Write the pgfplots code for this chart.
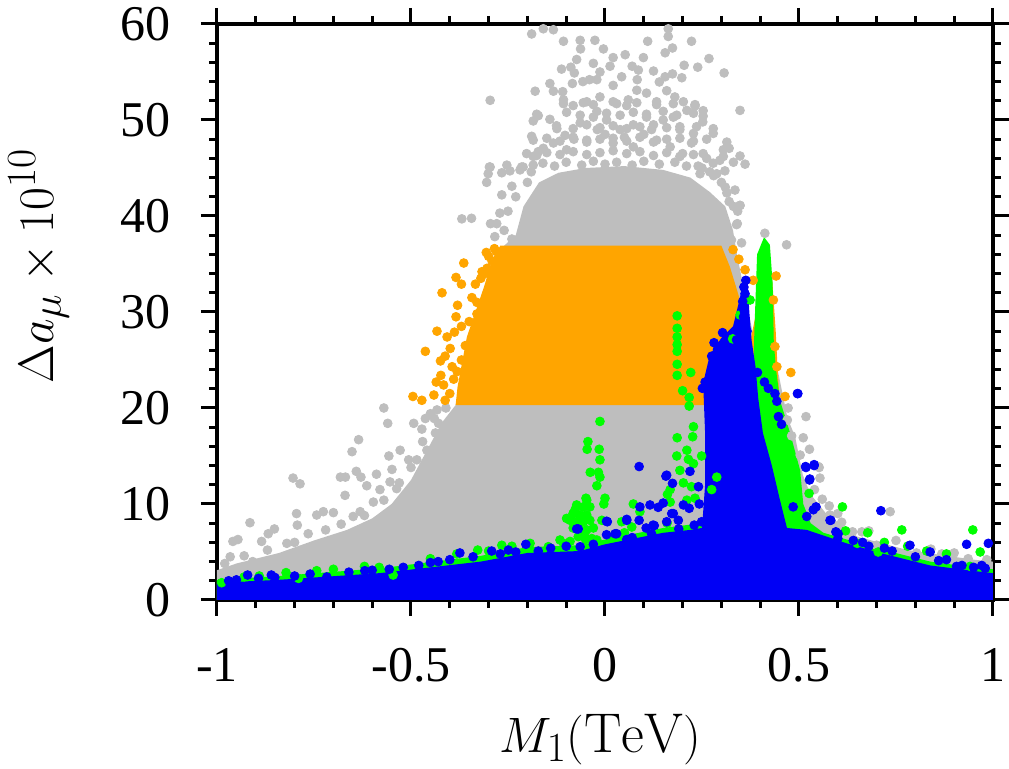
\documentclass[border=0pt]{standalone}
\usepackage{fontspec}
\newfontfamily\tickfont{Liberation Serif}
\usepackage{pgfplots}
\pgfplotsset{compat=1.18}
\definecolor{cgray}{RGB}{190,190,190}
\definecolor{corange}{RGB}{255,165,0}
\definecolor{cgreen}{RGB}{0,255,0}
\definecolor{cblue}{RGB}{0,0,245}
\begin{document}
\begin{tikzpicture}
\begin{axis}[
  scale only axis, width=388pt, height=288pt,
  xmin=-1, xmax=1, ymin=0, ymax=60,
  xtick={-1,-0.5,0,0.5,1}, xticklabels={-1,-0.5,0,0.5,1},
  ytick={0,10,20,30,40,50,60}, yticklabels={0,10,20,30,40,50,60},
  minor x tick num=4, minor y tick num=4,
  tick align=outside,
  major tick length=8pt, minor tick length=4pt,
  every tick/.style={black, line width=1.5pt},
  axis line style={line width=1.7pt},
  tick label style={font=\tickfont\fontsize{25}{30}\selectfont},
  xticklabel style={anchor=base, yshift=-33pt},
  yticklabel style={anchor=east, xshift=-11.5pt},
  label style={font=\fontsize{28}{34}\selectfont},
  xlabel={$M_1(\mathrm{TeV})$},
  ylabel={$\Delta a_\mu \times 10^{10}$},
  xlabel style={at={(axis description cs:0.494,-0.264)}, anchor=base},
  ylabel style={at={(axis description cs:-0.230,0.58)}, anchor=center},
  mark size=2.2pt,
]
% gray envelope
\addplot[fill=cgray, draw=none] coordinates {
(-1,0)(-1,3.1)(-0.95,3.8)(-0.90,4.3)(-0.84,4.9)(-0.75,6.2)(-0.665,7.3)(-0.60,8.5)(-0.55,10)(-0.50,12.5)(-0.46,15.5)(-0.42,18.5)(-0.385,20.3)(-0.35,27.4)(-0.30,32.6)(-0.26,36.9)(-0.23,38)(-0.21,41)(-0.17,43.5)(-0.12,44.5)(-0.05,45)(0.05,45.2)(0.15,44.8)(0.22,44)(0.27,42.5)(0.31,41)(0.33,38.5)(0.34,36)(0.38,28)(0.44,25)(0.46,21)(0.47,19)(0.49,17)(0.51,13)(0.53,11)(0.57,9)(0.65,6.6)(0.78,5.2)(0.95,4.2)(1,4)(1,0)} -- cycle;
% gray scattered
\addplot[only marks, mark=*, cgray, mark options={draw=cgray, fill=cgray}] coordinates {
(-0.159,59.5)(-0.189,58.96)(-0.133,59.4)(-0.107,58.2)(-0.064,58.3)(-0.026,58.3)(-0.063,57.4)(-0.004,57.4)(0.052,56.8)(0.021,56.5)(0.163,59.5)(0.163,58.7)(0.174,57.5)(0.155,57.0)(0.110,58.2)(0.223,58.2)(0.268,56.4)(0.307,54.9)(0.239,55.5)(0.204,55.7)(0.198,54.4)(0.174,54.8)(0.155,54.5)(0.140,53.96)(0.125,55.1)(0.099,56.5)(0.086,55.2)(0.070,55.6)(0.013,55.6)(-0.013,55.0)(-0.030,55.9)(-0.073,56.3)(-0.112,55.3)(-0.088,55.5)(-0.079,54.9)(-0.057,54.0)(-0.040,54.2)(-0.021,54.2)(0.021,53.6)(0.043,54.5)(0.083,54.2)(-0.142,53.8)(-0.084,53.8)(-0.180,53.0)(-0.133,53.0)(-0.109,52.95)(-0.296,52.05)(0.348,51.0)(0.253,50.97)(0.232,51.46)(0.211,51.0)(0.180,52.4)(0.159,53.05)(0.133,51.9)(0.107,52.8)(0.082,53.1)(0.060,52.1)(0.030,51.7)(-0.013,52.4)(-0.047,51.9)(-0.107,52.1)(-0.172,50.45)(-0.142,50.07)(-0.185,49.9)(-0.189,48.3)(0.279,48.6)(0.252,49.8)(0.228,48.6)(0.305,46.9)(0.320,47.05)(0.348,46.25)(0.361,45.4)(0.348,41.1)(0.342,40.5)(0.341,39.2)(0.335,42.7)(0.314,42.4)(0.309,44.7)(-0.369,39.7)(-0.344,39.76)(-0.305,43.5)(-0.301,44.4)(-0.298,45.1)(-0.266,44.5)(-0.245,44.7)(-0.215,45.1)(-0.185,46.2)(-0.172,46.7)(-0.240,43.1)(-0.266,42.2)(-0.295,39.2)(-0.279,39.2)(-0.271,40.3)(-0.284,37.85)(0.326,37.5)
(-0.124,49.1)(-0.103,48.4)(-0.064,49.7)(-0.030,50.3)(0.004,50.0)(0.039,49.0)(0.073,49.5)(0.107,50.3)(0.150,50.0)(0.176,50.3)(0.193,49.3)(0.223,47.6)(0.253,46.5)(0.279,45.5)(0.305,46.2)(-0.159,47.05)(-0.133,47.6)(-0.099,46.9)(-0.047,47.9)(0.021,47.6)(0.073,47.2)(0.133,47.9)(0.168,47.2)(-0.211,45.1)(0.288,44.4)(0.245,44.4)(0.331,41.0)(-0.08,48)(0.0,48.5)(0.05,48.2)(0.1,48.5)(0.2,46.5)(-0.2,43.5)(0.12,49)(-0.02,49)
(-0.107,51.7)(-0.082,51.5)(-0.056,51.8)(-0.030,51.6)(0.021,51.9)(0.056,51.5)(0.082,51.8)(0.133,51.6)(0.176,51.7)(0.202,51.9)(0.232,51.6)
(-0.176,50.6)(-0.099,50.8)(-0.064,50.5)(-0.021,50.9)(0.004,50.7)(0.039,50.5)(0.073,50.8)(0.107,50.6)(0.150,50.9)(0.185,50.5)(0.228,50.7)(0.253,50.4)
(-0.125,49.4)(-0.082,49.1)(-0.047,49.5)(-0.013,49.2)(0.021,49.4)(0.056,49.1)(0.090,49.3)(0.125,49.5)(0.159,49.2)(0.193,49.0)(0.236,49.3)(0.279,49.1)
(-0.185,47.9)(-0.150,48.1)(-0.116,47.8)(-0.082,48.2)(-0.047,47.7)(-0.013,48.0)(0.021,48.1)(0.056,47.8)(0.090,48.2)(0.125,47.7)(0.159,48.0)(0.193,48.1)(0.228,47.8)(0.262,48.0)(0.314,47.7)
(-0.202,46.5)(-0.176,46.3)(-0.150,46.6)(-0.116,46.4)(-0.082,46.7)(-0.047,46.4)(-0.013,46.6)(0.021,46.8)(0.056,46.5)(0.090,46.7)(0.125,46.3)(0.159,46.6)(0.193,46.2)(0.228,46.4)(0.262,46.0)(0.296,45.8)(0.331,45.6)
(-0.16,45.5)(-0.13,45.2)(-0.10,45.6)(-0.06,45.3)(-0.03,45.7)(0.0,45.4)(0.03,45.6)(0.07,45.3)(0.10,45.7)(0.14,45.4)(0.18,45.6)(0.21,45.2)(0.25,45.0)(0.28,44.2)(0.31,43.0)(-0.19,44.6)
(-0.296,45.1)(-0.253,45.3)(-0.219,44.8)(-0.185,45.3)(0.24,45.2)(0.27,44.6)(0.30,43.5)(0.32,41.5)(-0.25,40.5)(-0.23,42)(-0.26,38.5)(-0.24,37.6)
(-0.915,8.05)(-0.959,6.1)(-0.946,6.3)(-0.868,6.9)(-0.885,6.1)(-0.852,7.4)(-0.795,9.0)(-0.786,12.1)(-0.793,7.8)(-0.820,5.9)(-0.765,6.9)(-0.743,8.85)(-0.726,9.2)(-0.700,9.1)(-0.670,10.9)(-0.631,9.2)(-0.649,8.7)(-0.597,10.2)(-0.580,11.5)(-0.614,11.9)(-0.537,11.6)(-0.554,12.3)(-0.908,4.0)(-0.966,4.5)
(-0.804,12.7)(-0.682,12.8)(-0.669,12.8)(-0.652,15.45)(-0.635,16.7)(-0.641,13.4)(-0.629,12.8)(-0.589,13.1)(-0.570,20.0)(-0.560,18.4)(-0.557,15.0)(-0.549,13.6)(-0.528,15.6)(-0.506,14.6)(-0.493,18.4)(-0.463,18.9)(-0.472,17.8)(-0.450,19.4)(-0.433,19.8)(-0.429,18.4)(-0.437,17.4)(-0.459,15.6)(-0.485,14.6)
(-0.98,3.8)(-0.93,4.6)(-0.87,5.2)(-0.80,6.0)(-0.72,7.3)(-0.68,7.9)(-0.62,8.8)(-0.57,10.4)(-0.53,12.2)(-0.50,13.8)(-0.47,16.5)(-0.44,18.9)(-0.41,20.0)
(0.472,20.0)(0.518,19.1)(0.511,16.9)(0.527,15.7)(0.552,13.8)(0.554,12.7)(0.578,9.8)(0.610,8.1)(0.638,7.1)(0.662,7.1)(0.735,9.2)(0.700,5.7)(0.803,4.9)(0.868,4.8)(0.936,4.3)(0.984,4.2)(0.470,18.75)(0.481,17.1)(0.503,15.1)(0.580,8.85)
(0.468,37.0)(0.412,38.2)(0.352,37.2)(0.339,39.1)(0.348,41.1)(0.550,13.9)(0.54,11.5)(0.56,10.5)(0.60,9.0)(0.68,7.2)(0.75,6.2)(0.84,5.3)(0.90,4.9)
};
% orange envelope
\addplot[fill=corange, draw=none] coordinates {
(-0.385,20.3)(-0.38,22.2)(-0.356,27.4)(-0.312,32.6)(-0.29,35.5)(-0.27,36.9)(0.30,36.9)(0.322,34.7)(0.348,31.25)(0.36,28)(0.37,26)(0.39,30)(0.40,34.5)(0.43,34)(0.44,28)(0.445,24)(0.45,20.8)(0.45,20.3)} -- cycle;
\addplot[only marks, mark=*, corange, mark options={draw=corange, fill=corange}] coordinates {
(-0.306,36.2)(-0.285,36.6)(-0.291,35.3)(-0.364,35.1)(-0.384,33.6)(-0.370,32.9)(-0.334,32.9)(-0.317,34.2)(-0.304,34.55)(-0.420,32.0)(-0.343,31.5)(-0.380,30.7)(-0.384,29.5)(-0.433,28.0)(-0.407,27.4)(-0.388,27.9)(-0.463,25.9)(-0.424,24.9)(-0.412,25.4)(-0.399,26.2)(-0.435,22.7)(-0.423,23.4)(-0.416,22.4)(-0.495,21.2)(-0.472,20.8)(-0.441,21.35)(-0.412,20.8)(-0.381,23.8)(-0.394,24.3)
(-0.37,25)(-0.36,26.5)(-0.35,29)(-0.33,31)(-0.32,33.5)(-0.30,35.8)(-0.36,22)(-0.40,21.5)(-0.39,23)(-0.37,28.5)(-0.33,29.8)(-0.31,34)(-0.28,36.3)
(0.361,34.4)(0.382,33.3)(0.441,33.75)(0.434,31.25)(0.479,23.7)(0.464,21.2)(0.443,24.3)(0.438,26.4)(0.33,36.5)(0.345,35.5)
};
% green envelope
\addplot[fill=cgreen, draw=none] coordinates {
(-1,0)(-1,2.1)(-0.84,2.5)(-0.58,3.3)(-0.32,4.6)(-0.2,5.5)(-0.065,5.7)(0,6.3)(0.15,7.5)(0.25,8)(0.30,8)(0.38,20)(0.385,28)(0.392,36)(0.41,37.8)(0.425,37)(0.432,33)(0.435,27)(0.44,24.3)(0.451,20.8)(0.477,17.4)(0.503,13.5)(0.511,10)(0.53,8)(0.563,7)(0.623,6.3)(0.709,5.3)(0.838,4)(0.966,3.3)(1,3.2)(1,0)} -- cycle;
\addplot[only marks, mark=*, cgreen, mark options={draw=cgreen, fill=cgreen}] coordinates {
(0.186,29.6)(0.186,28.3)(0.186,27.4)(0.186,26.6)(0.186,25.9)(0.186,24.55)(0.186,23.4)(0.221,23.7)(0.200,21.8)(0.217,21.1)(0.217,20.2)(0.228,18.05)(0.226,17.0)(0.186,16.9)(0.211,15.6)(0.185,15.0)(0.215,14.65)(0.249,15.0)(0.193,13.5)(0.223,11.8)(0.168,11.5)(0.0,10.6)(0.073,10.0)(-0.013,18.6)(-0.013,14.6)(-0.013,12.8)(0.090,9.2)(0.021,6.6)(0.374,31.25)(0.348,29.7)(0.329,27.2)(0.288,12.8)(0.275,11.5)
(-0.044,16.5)(-0.046,15.7)(-0.015,15.7)(-0.038,13.3)(-0.017,13.3)(-0.021,11.9)(-0.003,10.0)(-0.049,10.6)
(-0.073,9.9)(-0.056,9.7)(-0.039,9.7)(-0.082,9.0)(-0.064,8.85)(-0.047,8.85)(-0.090,8.3)(-0.073,8.15)(-0.056,8.15)(-0.039,8.3)(-0.082,7.5)(-0.064,7.3)(-0.047,7.3)(-0.030,7.5)(-0.069,6.6)(-0.052,6.6)(-0.034,6.4)(-0.099,8.5)(-0.107,5.9)(-0.090,6.1)(-0.021,6.25)(-0.008,8.3)(-0.077,9.4)(-0.047,10.4)
(0.202,12.2)(0.161,11.0)(0.211,10.4)(0.232,10.6)(0.168,10.2)(0.069,7.6)(0.043,8.15)(0.228,14.2)
(-0.988,1.8)(-0.891,2.5)(-0.822,2.85)(-0.790,2.25)(-0.743,3.05)(-0.582,3.4)(-0.546,2.6)(-0.382,4.8)(-0.328,5.2)(-0.266,5.7)(-0.193,5.9)(-0.146,5.55)(-0.116,6.25)(-0.082,9.0)
(-0.93,2.4)(-0.70,3.2)(-0.62,3.5)(-0.45,4.3)(-0.30,5.1)(-0.24,5.6)(-0.05,6.3)(0.05,7)(0.16,8)(0.62,7.2)(0.72,6.0)(0.78,5.6)(0.88,4.8)
(0.612,9.7)(0.677,7.0)(0.765,7.3)(0.948,7.3)(0.967,5.0)(0.526,11.1)(0.650,5.9)(0.704,5.0)(0.829,5.1)(0.941,3.5)
};
% blue envelope
\addplot[fill=cblue, draw=none] coordinates {
(-1,0)(-1,1.8)(-0.84,2.1)(-0.58,2.8)(-0.32,4.0)(-0.2,4.9)(-0.065,5.1)(0,5.8)(0.15,7.0)(0.22,7.3)(0.25,7.5)(0.258,12)(0.258,17.4)(0.253,22.6)(0.27,25.5)(0.30,27.3)(0.33,28.5)(0.345,31)(0.358,33.3)(0.368,33)(0.372,30)(0.378,27)(0.388,24.3)(0.395,21)(0.407,17.4)(0.43,14)(0.451,10.4)(0.469,7.5)(0.52,7.3)(0.623,5.9)(0.709,4.9)(0.838,3.6)(0.966,2.95)(1,2.8)(1,0)} -- cycle;
\addplot[only marks, mark=*, cblue, mark options={draw=cblue, fill=cblue}] coordinates {
(0.303,27.85)(0.281,26.8)(0.290,26.1)(0.275,25.4)(0.309,25.0)(0.258,22.7)(0.251,22.05)(0.088,13.9)(0.159,13.0)(0.174,12.15)(0.219,13.4)(0.241,11.8)(0.150,10.1)(0.116,9.9)(0.090,9.7)(0.137,9.65)(0.243,10.0)(0.176,9.0)(0.202,9.9)(0.004,8.2)(0.056,8.3)(0.124,7.8)(0.026,6.9)(0.447,19.1)(0.455,18.3)(0.443,20.7)(0.438,21.5)(0.421,22.05)(0.411,22.7)(0.393,23.7)(0.497,21.5)(0.517,13.9)(0.539,14.1)(0.528,12.6)(0.537,9.4)(0.580,8.3)(0.595,7.1)(0.485,9.7)(0.520,8.7)
(0.363,33.3)(0.358,32.6)(0.361,31.9)(0.355,31.1)(0.358,30.2)(0.357,29.5)(0.366,28.0)(0.348,28.5)(0.339,27.1)
(0.157,12.9)(0.172,9.0)(0.217,9.55)(0.056,8.4)(0.088,8.3)(0.006,8.15)(-0.069,7.4)(-0.204,5.8)(-0.172,5.1)(0.127,7.75)(0.106,7.5)(0.159,8.15)(0.189,8.3)(0.249,8.15)(0.030,6.9)(0.004,6.8)(0.056,6.3)(-0.064,5.55)
(-0.921,2.6)(-0.893,2.25)(-0.851,2.35)(-0.717,2.4)(-0.556,3.2)(-0.619,3.05)(-0.430,4.0)(-0.374,4.9)(-0.292,5.1)(-0.249,5.2)(-0.073,7.4)
(-0.97,2.0)(-0.95,2.1)(-0.86,2.6)(-0.80,2.5)(-0.76,2.7)(-0.66,2.9)(-0.60,3.1)(-0.52,3.4)(-0.48,3.6)(-0.45,3.9)(-0.40,4.2)(-0.34,4.5)(-0.27,4.8)(-0.23,5.0)(-0.14,5.4)(-0.10,5.6)(-0.03,5.8)(0.07,6.5)(0.12,6.9)(0.19,7.4)(0.23,7.8)
(0.60,6.4)(0.64,6.2)(0.68,5.6)(0.74,5.1)(0.80,4.5)(0.86,4.1)(0.88,4.2)(0.92,3.6)(0.95,3.4)(0.98,3.3)
(0.496,21.5)(0.539,14.0)(0.518,13.8)(0.527,12.5)(0.711,9.3)(0.582,8.3)(0.601,6.9)(0.664,6.0)(0.720,5.4)(0.786,5.7)(0.838,5.0)(0.932,5.8)(0.988,5.9)(0.971,3.6)(0.906,3.5)(0.544,9.7)
};
\end{axis}
\pgfresetboundingbox
\path (-108.5pt,-84.5pt) rectangle (396pt,300pt);
\end{tikzpicture}
\end{document}
